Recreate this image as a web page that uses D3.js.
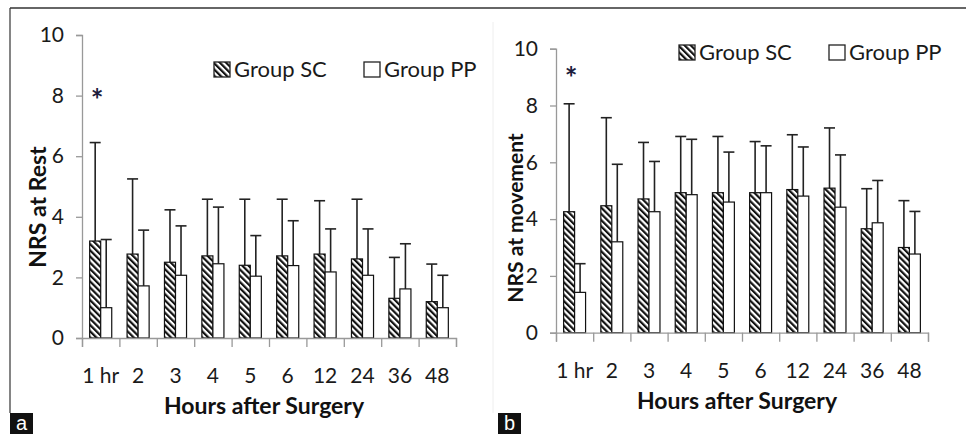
<!DOCTYPE html>
<html>
<head>
<meta charset="utf-8">
<script src="https://cdn.jsdelivr.net/npm/d3@7"></script>
<style>
  body { margin: 0; background: #fff; }
  svg { display: block; font-family: Lato, "Open Sans", sans-serif; }
</style>
</head>
<body>
<svg id="chart" width="966" height="434"></svg>
<script>
// categories (hours after surgery)
const hours = ["1 hr", "2", "3", "4", "5", "6", "12", "24", "36", "48"];
const groups = ["Group SC", "Group PP"];
const yTicks = [0, 2, 4, 6, 8, 10];

// panel a: NRS at rest (mean and SD)
const restSC = [3.2, 2.77, 2.5, 2.71, 2.4, 2.71, 2.77, 2.61, 1.31, 1.2];
const restSCsd = [3.25, 2.48, 1.73, 1.87, 2.18, 1.87, 1.76, 1.97, 1.35, 1.24];
const restPP = [1.0, 1.72, 2.07, 2.45, 2.04, 2.39, 2.18, 2.07, 1.62, 1.0];
const restPPsd = [2.25, 1.84, 1.63, 1.87, 1.34, 1.48, 1.42, 1.53, 1.49, 1.07];

// panel b: NRS at movement (mean and SD)
const moveSC = [4.26, 4.47, 4.71, 4.93, 4.93, 4.93, 5.04, 5.09, 3.66, 3.0];
const moveSCsd = [3.8, 3.1, 1.99, 1.98, 1.98, 1.8, 1.93, 2.12, 1.41, 1.65];
const movePP = [1.42, 3.2, 4.26, 4.86, 4.6, 4.93, 4.81, 4.42, 3.87, 2.77];
const movePPsd = [1.01, 2.73, 1.77, 1.95, 1.76, 1.65, 1.73, 1.84, 1.49, 1.5];

const svg = d3.select("#chart");

// hatch for group SC
const defs = svg.append("defs");
defs.append("pattern")
  .attr("id", "hatch")
  .attr("patternUnits", "userSpaceOnUse")
  .attr("width", 4.4)
  .attr("height", 4.4)
  .attr("patternTransform", "rotate(-45)")
  .call(p => {
    p.append("rect").attr("width", 4.4).attr("height", 4.4).attr("fill", "#fff");
    p.append("rect").attr("width", 2.2).attr("height", 4.4).attr("fill", "#111");
  });

// figure frame
svg.append("line").attr("x1", 10).attr("x2", 966).attr("y1", 8).attr("y2", 8)
  .attr("stroke", "#333").attr("stroke-width", 1.5);
svg.append("line").attr("x1", 10).attr("x2", 10).attr("y1", 8).attr("y2", 413)
  .attr("stroke", "#333").attr("stroke-width", 1.2);
svg.append("line").attr("x1", 493).attr("x2", 493).attr("y1", 22).attr("y2", 413)
  .attr("stroke", "#eee").attr("stroke-width", 1);

function drawPanel(cfg) {
  const g = svg.append("g");

  let y = d3.scaleLinear().domain([0, 10]).range([cfg.bottom, cfg.top]);
  let x0 = d3.scaleBand().domain(hours).range([cfg.left, cfg.right])
    .paddingInner(0.41).paddingOuter(0.205);
  let x1 = d3.scaleBand().domain(groups).range([0, x0.bandwidth()]);
  let xb = d3.scaleLinear().domain([0, hours.length]).range([cfg.left, cfg.right]);

  // y axis
  let yAxis = g.append("g")
    .attr("transform", `translate(${cfg.left},0)`)
    .call(d3.axisLeft(y).tickValues(yTicks).tickSize(6).tickPadding(12));
  yAxis.select(".domain").attr("stroke", "#999").attr("stroke-width", 1.3);
  yAxis.selectAll(".tick line").attr("stroke", "#999").attr("stroke-width", 1.3);
  yAxis.selectAll("text").attr("font-size", 21).attr("fill", "#1a1a1a")
    .attr("font-family", "Lato, sans-serif");

  // bars
  const series = [
    { key: "Group SC", mean: cfg.sc, sd: cfg.scSd, fill: "url(#hatch)" },
    { key: "Group PP", mean: cfg.pp, sd: cfg.ppSd, fill: "#fff" }
  ];

  series.forEach(s => {
    // error bars (upper only)
    hours.forEach((h, i) => {
      let cx = x0(h) + x1(s.key) + x1.bandwidth() / 2;
      g.append("line")
        .attr("x1", cx).attr("x2", cx)
        .attr("y1", y(s.mean[i])).attr("y2", y(s.mean[i] + s.sd[i]))
        .attr("stroke", "#222").attr("stroke-width", 1.6);
      g.append("line")
        .attr("x1", cx - 5.5).attr("x2", cx + 5.5)
        .attr("y1", y(s.mean[i] + s.sd[i])).attr("y2", y(s.mean[i] + s.sd[i]))
        .attr("stroke", "#222").attr("stroke-width", 1.6);
    });

    g.selectAll(null)
      .data(s.mean)
      .enter().append("rect")
      .attr("x", (d, i) => x0(hours[i]) + x1(s.key))
      .attr("y", d => y(d))
      .attr("width", x1.bandwidth())
      .attr("height", d => y(0) - y(d))
      .attr("fill", s.fill)
      .attr("stroke", "#111")
      .attr("stroke-width", 1.2);
  });

  // x axis: line with boundary ticks, labels under categories
  let xAxis = g.append("g")
    .attr("transform", `translate(0,${cfg.bottom})`)
    .call(d3.axisBottom(xb).ticks(hours.length).tickSize(9).tickFormat(""));
  xAxis.select(".domain").attr("stroke", "#999").attr("stroke-width", 1.3);
  xAxis.selectAll(".tick line").attr("stroke", "#999").attr("stroke-width", 1.3);

  g.append("g").selectAll("text")
    .data(hours)
    .enter().append("text")
    .attr("x", d => x0(d) + x0.bandwidth() / 2)
    .attr("y", cfg.bottom + 45)
    .attr("text-anchor", "middle")
    .attr("font-size", 21)
    .attr("fill", "#1a1a1a")
    .text(d => d);

  // axis titles
  g.append("text")
    .attr("x", (cfg.left + cfg.right) / 2 - 5)
    .attr("y", cfg.bottom + 76)
    .attr("text-anchor", "middle")
    .attr("font-size", 23)
    .attr("font-weight", "bold")
    .attr("fill", "#111")
    .text("Hours after Surgery");

  g.append("text")
    .attr("transform", `translate(${cfg.yTitleX},${cfg.yTitleY}) rotate(-90)`)
    .attr("text-anchor", "middle")
    .attr("font-size", cfg.yTitleSize)
    .attr("font-weight", "bold")
    .attr("fill", "#111")
    .text(cfg.yTitle);

  // significance marker
  g.append("text")
    .attr("x", x0(hours[0]) + x1("Group SC") + x1.bandwidth() / 2 + 2)
    .attr("y", y(cfg.starAt) + 15)
    .attr("text-anchor", "middle")
    .attr("font-size", 30)
    .attr("font-weight", "bold")
    .attr("fill", "#1c1c3c")
    .text("*");

  // legend
  let lg = g.append("g").attr("transform", `translate(${cfg.legendX},${cfg.legendY})`);
  [[0, "url(#hatch)", "Group SC"], [150, "#fff", "Group PP"]].forEach(([dx, fill, label]) => {
    lg.append("rect")
      .attr("x", dx).attr("y", -15)
      .attr("width", 16).attr("height", 15)
      .attr("fill", fill).attr("stroke", "#222").attr("stroke-width", 1.3);
    lg.append("text")
      .attr("x", dx + 20).attr("y", 0)
      .attr("font-size", 22)
      .attr("fill", "#1a1a1a")
      .text(label);
  });

  // panel letter
  svg.append("rect").attr("x", cfg.tagX).attr("y", 413).attr("width", 23).attr("height", 21)
    .attr("fill", "#111");
  svg.append("text").attr("x", cfg.tagX + 11.5).attr("y", 430)
    .attr("text-anchor", "middle").attr("font-size", 20).attr("fill", "#fff")
    .attr("font-family", "Arial, 'Liberation Sans', sans-serif")
    .text(cfg.tag);
}

drawPanel({
  left: 82, right: 456, top: 35, bottom: 338,
  sc: restSC, scSd: restSCsd, pp: restPP, ppSd: restPPsd,
  yTitle: "NRS at Rest", yTitleX: 46, yTitleY: 207, yTitleSize: 23,
  starAt: 8.0, legendX: 214, legendY: 77, tag: "a", tagX: 10
});

drawPanel({
  left: 556, right: 928, top: 48.7, bottom: 332.7,
  sc: moveSC, scSd: moveSCsd, pp: movePP, ppSd: movePPsd,
  yTitle: "NRS at movement", yTitleX: 523, yTitleY: 218, yTitleSize: 21,
  starAt: 9.1, legendX: 679, legendY: 60, tag: "b", tagX: 498
});
</script>
</body>
</html>
